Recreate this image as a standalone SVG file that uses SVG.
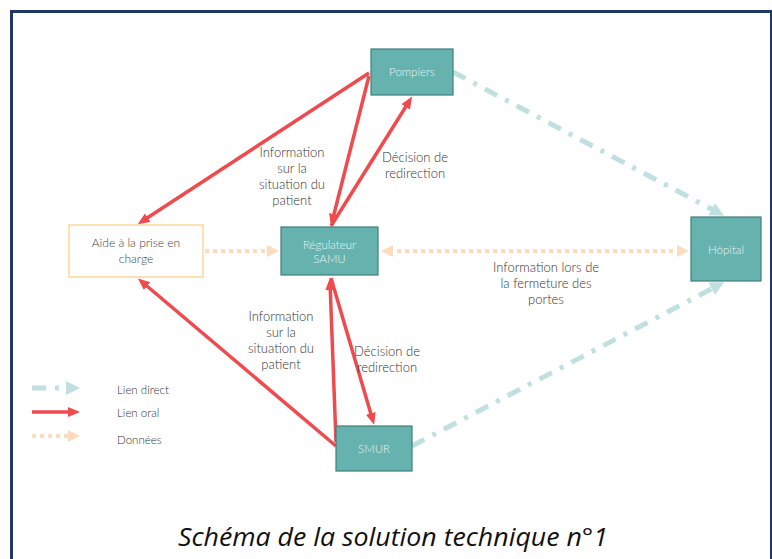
<svg xmlns="http://www.w3.org/2000/svg" width="772" height="559" viewBox="0 0 772 559">
<style>
.box{fill:#66b2ae;stroke:#3e7f7b;stroke-width:1.2}
.aide{fill:#ffffff;stroke:#fbd89a;stroke-width:1.5}
.nt{font-family:Lato,"Noto Sans",sans-serif;font-weight:300;font-size:11.5px;fill:#eaf5f4;text-anchor:middle}
.at{font-family:Lato,"Noto Sans",sans-serif;font-weight:300;font-size:12px;fill:#404040;text-anchor:middle}
.lb{font-family:Lato,"Noto Sans",sans-serif;font-weight:300;font-size:13px;fill:#333333;text-anchor:middle}
.lg{font-family:Lato,"Noto Sans",sans-serif;font-weight:300;font-size:11.5px;fill:#333333}
.red{fill:none;stroke:#ef4a4e;stroke-width:3.5}
.teal{fill:none;stroke:#bfe0df;stroke-width:5;stroke-dasharray:14 9 4 9}
.dot{fill:none;stroke:#fcdcbd;stroke-width:4;stroke-dasharray:4 4}
</style>
<defs>
<marker id="ar" markerUnits="userSpaceOnUse" markerWidth="14" markerHeight="12" refX="8" refY="5" orient="auto">
<path d="M0,0 L12,5 L0,10 z" fill="#ef4a4e"/>
</marker>
<marker id="at" markerUnits="userSpaceOnUse" markerWidth="16" markerHeight="16" refX="6" refY="7" orient="auto">
<path d="M0,0 L14,7 L0,14 z" fill="#bfe0df"/>
</marker>
<marker id="ao" markerUnits="userSpaceOnUse" markerWidth="14" markerHeight="14" refX="4" refY="6" orient="auto-start-reverse">
<path d="M0,0 L12,6 L0,12 z" fill="#fcdcbd"/>
</marker>
</defs>
<rect x="0" y="0" width="772" height="559" fill="#ffffff"/>
<rect x="11.5" y="11.5" width="760" height="560" fill="none" stroke="#1f3864" stroke-width="3"/>
<g id="connectors">
<path class="teal" d="M453,72 L717,212" marker-end="url(#at)"/>
<path class="teal" d="M412,446 L717,286" marker-end="url(#at)"/>
<path class="dot" d="M205,251 L271,251" marker-end="url(#ao)"/>
<path class="dot" d="M389,251 L681,251" marker-start="url(#ao)" marker-end="url(#ao)"/>
<path class="red" d="M369,73 L141,222" marker-end="url(#ar)"/>
<path class="red" d="M369,76 L332,222" marker-end="url(#ar)"/>
<path class="red" d="M331,226 L410,100" marker-end="url(#ar)"/>
<path class="red" d="M336,442 L330,282" marker-end="url(#ar)"/>
<path class="red" d="M331,278 L373,421" marker-end="url(#ar)"/>
<path class="red" d="M336,446 L141,281" marker-end="url(#ar)"/>
</g>
<g id="pompiers">
<rect class="box" x="371" y="49" width="82" height="46"/>
<text class="nt" x="412" y="76">Pompiers</text>
</g>
<g id="regulateur">
<rect class="box" x="281" y="227" width="97" height="48"/>
<text class="nt" x="329.5" y="249">Régulateur</text>
<text class="nt" x="329.5" y="263">SAMU</text>
</g>
<g id="hopital">
<rect class="box" x="691" y="217" width="70" height="64"/>
<text class="nt" x="726" y="254">Hôpital</text>
</g>
<g id="aide">
<rect class="aide" x="69" y="225" width="134" height="52"/>
<text class="at" x="136" y="247">Aide à la prise en</text>
<text class="at" x="136" y="263">charge</text>
</g>
<g id="smur">
<rect class="box" x="336" y="426" width="76" height="45"/>
<text class="nt" x="374" y="453">SMUR</text>
</g>
<g id="labels">
<text class="lb" x="292" y="157">Information</text>
<text class="lb" x="292" y="173">sur la</text>
<text class="lb" x="292" y="189">situation du</text>
<text class="lb" x="292" y="205">patient</text>
<text class="lb" x="415" y="162">Décision de</text>
<text class="lb" x="415" y="178">redirection</text>
<text class="lb" x="546" y="272">Information lors de</text>
<text class="lb" x="546" y="288">la fermeture des</text>
<text class="lb" x="546" y="304">portes</text>
<text class="lb" x="281" y="321">Information</text>
<text class="lb" x="281" y="337">sur la</text>
<text class="lb" x="281" y="353">situation du</text>
<text class="lb" x="281" y="369">patient</text>
<text class="lb" x="387" y="356">Décision de</text>
<text class="lb" x="387" y="372">redirection</text>
</g>
<g id="legend">
<path class="teal" d="M32,388 L72,388" marker-end="url(#at)"/>
<path class="red" d="M32,412 L76,412" marker-end="url(#ar)"/>
<path class="dot" d="M32,436 L72,436" marker-end="url(#ao)"/>
<text class="lg" x="117" y="394">Lien direct</text>
<text class="lg" x="117" y="417">Lien oral</text>
<text class="lg" x="117" y="444">Données</text>
</g>
<text x="393" y="546" font-family="'Open Sans','Liberation Sans',sans-serif" font-style="italic" font-size="25" fill="#111111" text-anchor="middle" textLength="430" lengthAdjust="spacingAndGlyphs">Schéma de la solution technique n°1</text>
</svg>
